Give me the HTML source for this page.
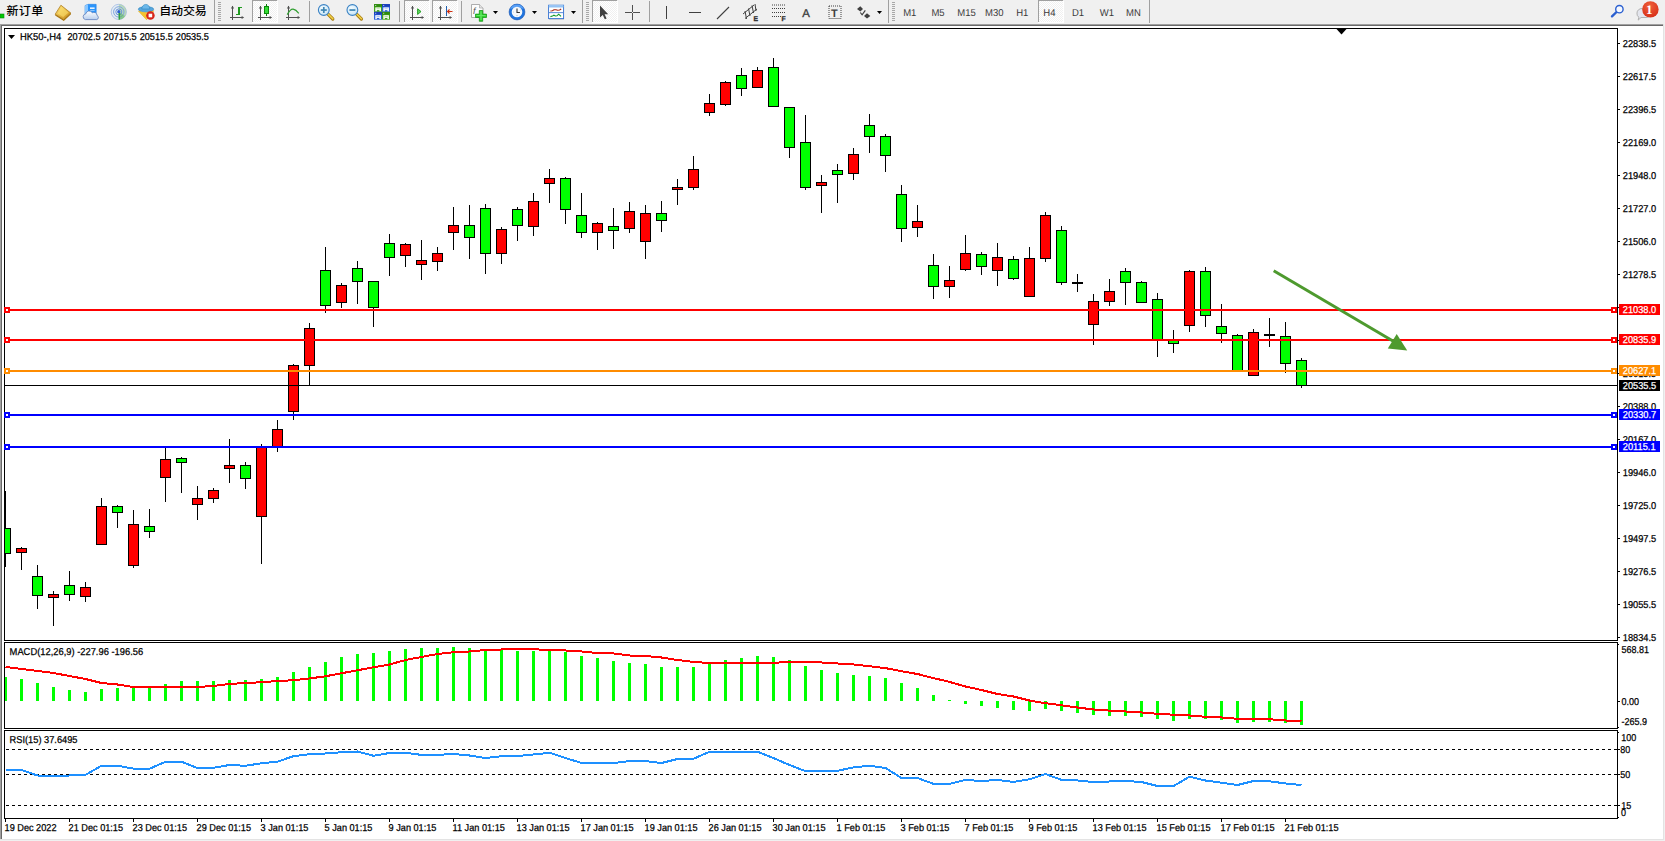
<!DOCTYPE html>
<html lang="zh"><head><meta charset="utf-8"><title>HK50-,H4</title>
<style>
html,body{margin:0;padding:0;}
body{width:1665px;height:841px;background:#f0f0f0;position:relative;overflow:hidden;font-family:"Liberation Sans","Noto Sans CJK SC",sans-serif;}
#tb{position:absolute;left:0;top:0;width:1665px;height:24px;background:#f0f0f0;}
#tb .t{position:absolute;white-space:nowrap;color:#000;}
#tb .cj{font-size:12px;line-height:14px;top:5.4px;font-weight:500;transform:scale(1,0.92);transform-origin:0 0;}
#tb svg{position:absolute;}
</style></head><body>
<div id="tb">
<svg width="1665" height="24" viewBox="0 0 1665 24" style="left:0;top:0;text-rendering:geometricPrecision" font-family="Liberation Sans, Arial, sans-serif">
<defs><pattern id="chk" width="2" height="2" patternUnits="userSpaceOnUse"><rect width="2" height="2" fill="#ffffff"/><rect width="1" height="1" fill="#f0f0f0"/><rect x="1" y="1" width="1" height="1" fill="#f0f0f0"/></pattern><linearGradient id="gold" x1="0" y1="0" x2="1" y2="1"><stop offset="0" stop-color="#ffe27a"/><stop offset="1" stop-color="#c98a12"/></linearGradient><linearGradient id="blu" x1="0" y1="0" x2="0" y2="1"><stop offset="0" stop-color="#6fb4f2"/><stop offset="1" stop-color="#1f6ed4"/></linearGradient><linearGradient id="cld" x1="0" y1="0" x2="0" y2="1"><stop offset="0" stop-color="#ffffff"/><stop offset="1" stop-color="#b9cfee"/></linearGradient><radialGradient id="red" cx="0.45" cy="0.3" r="0.8"><stop offset="0" stop-color="#f0603a"/><stop offset="1" stop-color="#d42a14"/></radialGradient><radialGradient id="lens" cx="0.4" cy="0.35" r="0.7"><stop offset="0" stop-color="#f4fbff"/><stop offset="1" stop-color="#c4e4f6"/></radialGradient></defs>
<rect x="0" y="14" width="4" height="4" fill="#00c800" stroke="#0a8a0a" stroke-width="0.6"/>
<g><polygon points="60.9,5.2 70.8,13 63.6,19.6 55.2,14.2" fill="url(#gold)" stroke="#a8740e" stroke-width="0.7"/><polygon points="61.3,6.6 68.6,12.6 63.2,17 57.6,13.6" fill="#ffe675" opacity="0.55"/><path d="M55.2,14.2 L63.6,19.6 L70.8,13 L71,14.3 L63.8,21 L55.2,15.6 Z" fill="#a8740e"/></g>
<g><polygon points="85,5.6 88,4.3 96.2,4.3 96.2,14 85,14" fill="#2b95fb" stroke="#1a78e0" stroke-width="0.5"/><polygon points="85,5.6 88,4.3 88,14 85,14" fill="#8cc8ff"/><rect x="90" y="7.4" width="4.6" height="1.6" fill="#e4f2ff"/><rect x="90" y="10" width="4.6" height="0.8" fill="#9fd0ff"/><path d="M85.4,19.6 a2.9,2.9 0 0 1 0.3,-5.7 a3.6,3.6 0 0 1 6.6,-1.2 a3.3,3.3 0 0 1 4.8,2.8 a2.2,2.2 0 0 1 -0.3,4.1 z" fill="url(#cld)" stroke="#5c7cba" stroke-width="0.8"/></g>
<g fill="none"><circle cx="118.8" cy="11.9" r="7.6" fill="#e6eef2" stroke="#a9c0e6" stroke-width="0.9"/><path d="M118.8,4.3 A7.6,7.6 0 0 1 118.8,19.5 Z" fill="#a8d0a8" opacity="0.75"/><circle cx="118.8" cy="11.9" r="5.2" stroke="#7ea3e0" stroke-width="1"/><circle cx="118.8" cy="11.9" r="3" stroke="#6a93dc" stroke-width="1"/><path d="M119.2,12 L119.2,19.6 A7.6,7.6 0 0 0 125,16 Z" fill="#3fae3f" opacity="0.4"/><rect x="118.6" y="12" width="1.2" height="7.6" fill="#1f9a2a"/><circle cx="118.8" cy="11.7" r="1.6" fill="#2a5fd0"/></g>
<g><path d="M138.5,11 Q146,14 153.6,10.6 L152,15 L146.4,19.6 Z" fill="#ffd94f" stroke="#d9a514" stroke-width="0.6"/><path d="M138.5,11 Q142,12.6 146,12.4 L146.4,19.6 Z" fill="#f3c22e"/><ellipse cx="146" cy="9.2" rx="7.7" ry="2.6" fill="#57a7dd" stroke="#2f86c0" stroke-width="0.6"/><path d="M141.8,9 a4,4.6 0 0 1 8,0 z" fill="#6cb8ea" stroke="#2f86c0" stroke-width="0.6"/><circle cx="150.4" cy="15.5" r="4.3" fill="#d8261a"/><rect x="148.6" y="13.7" width="3.6" height="3.6" fill="#fff"/></g>
<rect x="214" y="0" width="1" height="23" fill="#a0a0a0" shape-rendering="crispEdges"/>
<rect x="218" y="2" width="3" height="1" fill="#a8a8a8"/>
<rect x="218" y="4" width="3" height="1" fill="#a8a8a8"/>
<rect x="218" y="6" width="3" height="1" fill="#a8a8a8"/>
<rect x="218" y="8" width="3" height="1" fill="#a8a8a8"/>
<rect x="218" y="10" width="3" height="1" fill="#a8a8a8"/>
<rect x="218" y="12" width="3" height="1" fill="#a8a8a8"/>
<rect x="218" y="14" width="3" height="1" fill="#a8a8a8"/>
<rect x="218" y="16" width="3" height="1" fill="#a8a8a8"/>
<rect x="218" y="18" width="3" height="1" fill="#a8a8a8"/>
<rect x="218" y="20" width="3" height="1" fill="#a8a8a8"/>
<g stroke="#505050" stroke-width="1" fill="none" shape-rendering="crispEdges"><line x1="232.5" y1="6" x2="232.5" y2="20"/><line x1="230" y1="17.5" x2="243" y2="17.5"/></g>
<polygon points="230.9,8.6 232.5,5.8 234.1,8.6" fill="#505050"/><polygon points="241.6,15.9 244.2,17.5 241.6,19.1" fill="#505050"/>
<path d="M236,14.5 h3 v-7 h3" stroke="#1e9a1e" stroke-width="1.6" fill="none" shape-rendering="crispEdges"/>
<g shape-rendering="crispEdges"><rect x="252" y="0" width="25" height="22" fill="url(#chk)"/>
<rect x="252" y="0" width="25" height="1" fill="#a0a0a0"/><rect x="252" y="0" width="1" height="22" fill="#a0a0a0"/>
<rect x="252" y="22" width="26" height="1" fill="#ffffff"/><rect x="277" y="1" width="1" height="22" fill="#ffffff"/></g>
<g stroke="#505050" stroke-width="1" fill="none" shape-rendering="crispEdges"><line x1="260.5" y1="6" x2="260.5" y2="20"/><line x1="258" y1="17.5" x2="271" y2="17.5"/></g>
<polygon points="258.9,8.6 260.5,5.8 262.1,8.6" fill="#505050"/><polygon points="269.6,15.9 272.2,17.5 269.6,19.1" fill="#505050"/>
<g shape-rendering="crispEdges"><rect x="266" y="4" width="1" height="12" fill="#0b7a0b"/><rect x="264.5" y="6.5" width="4" height="7" fill="#35dc35" stroke="#0b8a0b" stroke-width="1"/></g>
<g stroke="#505050" stroke-width="1" fill="none" shape-rendering="crispEdges"><line x1="288.5" y1="6" x2="288.5" y2="20"/><line x1="286" y1="17.5" x2="299" y2="17.5"/></g>
<polygon points="286.9,8.6 288.5,5.8 290.1,8.6" fill="#505050"/><polygon points="297.6,15.9 300.2,17.5 297.6,19.1" fill="#505050"/>
<path d="M287.2,14.6 Q290.5,8.6 293.2,9.1 T298.8,13.3" stroke="#2f9e2f" stroke-width="1.15" fill="none"/>
<rect x="309" y="1" width="1" height="21" fill="#a0a0a0" shape-rendering="crispEdges"/>
<line x1="328.0" y1="14.2" x2="332.8" y2="19" stroke="#a87c12" stroke-width="3.2" stroke-linecap="round"/><line x1="328.0" y1="14" x2="332.8" y2="18.8" stroke="#f2d24a" stroke-width="1.6" stroke-linecap="round"/>
<circle cx="323.8" cy="10" r="5.4" fill="url(#lens)" stroke="#3b82c4" stroke-width="1.1"/>
<rect x="320.8" y="9.2" width="6" height="1.7" fill="#3f86b4"/>
<rect x="322.95" y="7" width="1.7" height="6" fill="#3f86b4"/>
<line x1="356.59999999999997" y1="14.2" x2="361.4" y2="19" stroke="#a87c12" stroke-width="3.2" stroke-linecap="round"/><line x1="356.59999999999997" y1="14" x2="361.4" y2="18.8" stroke="#f2d24a" stroke-width="1.6" stroke-linecap="round"/>
<circle cx="352.4" cy="10" r="5.4" fill="url(#lens)" stroke="#3b82c4" stroke-width="1.1"/>
<rect x="349.4" y="9.2" width="6" height="1.7" fill="#3f86b4"/>
<rect x="374" y="4.1" width="8" height="7.8" fill="#43a41a"/><rect x="374" y="4.1" width="8" height="2.6" fill="#2f8a10"/><rect x="375.2" y="5.0" width="1" height="1" fill="#e8f4ff" opacity="0.8"/><rect x="375.3" y="7.3999999999999995" width="5.6" height="2.7" fill="#fff"/><rect x="375.3" y="10.0" width="1.5" height="1.3" fill="#fff"/><rect x="379.4" y="10.0" width="1.5" height="1.3" fill="#fff"/><rect x="376.4" y="8.399999999999999" width="3.4" height="0.8" fill="#43a41a" opacity="0.45"/>
<rect x="382" y="4.1" width="8" height="7.8" fill="#2c62dc"/><rect x="382" y="4.1" width="8" height="2.6" fill="#1a3fb8"/><rect x="383.2" y="5.0" width="1" height="1" fill="#e8f4ff" opacity="0.8"/><rect x="383.3" y="7.3999999999999995" width="5.6" height="2.7" fill="#fff"/><rect x="383.3" y="10.0" width="1.5" height="1.3" fill="#fff"/><rect x="387.4" y="10.0" width="1.5" height="1.3" fill="#fff"/><rect x="384.4" y="8.399999999999999" width="3.4" height="0.8" fill="#2c62dc" opacity="0.45"/>
<rect x="374" y="11.9" width="8" height="7.8" fill="#2c62dc"/><rect x="374" y="11.9" width="8" height="2.6" fill="#1a3fb8"/><rect x="375.2" y="12.8" width="1" height="1" fill="#e8f4ff" opacity="0.8"/><rect x="375.3" y="15.2" width="5.6" height="2.7" fill="#fff"/><rect x="375.3" y="17.8" width="1.5" height="1.3" fill="#fff"/><rect x="379.4" y="17.8" width="1.5" height="1.3" fill="#fff"/><rect x="376.4" y="16.2" width="3.4" height="0.8" fill="#2c62dc" opacity="0.45"/>
<rect x="382" y="11.9" width="8" height="7.8" fill="#43a41a"/><rect x="382" y="11.9" width="8" height="2.6" fill="#2f8a10"/><rect x="383.2" y="12.8" width="1" height="1" fill="#e8f4ff" opacity="0.8"/><rect x="383.3" y="15.2" width="5.6" height="2.7" fill="#fff"/><rect x="383.3" y="17.8" width="1.5" height="1.3" fill="#fff"/><rect x="387.4" y="17.8" width="1.5" height="1.3" fill="#fff"/><rect x="384.4" y="16.2" width="3.4" height="0.8" fill="#43a41a" opacity="0.45"/>
<rect x="399" y="1" width="1" height="21" fill="#a0a0a0" shape-rendering="crispEdges"/>
<g shape-rendering="crispEdges"><rect x="404" y="0" width="25" height="22" fill="url(#chk)"/>
<rect x="404" y="0" width="25" height="1" fill="#a0a0a0"/><rect x="404" y="0" width="1" height="22" fill="#a0a0a0"/>
<rect x="404" y="22" width="26" height="1" fill="#ffffff"/><rect x="429" y="1" width="1" height="22" fill="#ffffff"/></g>
<g stroke="#505050" stroke-width="1" fill="none" shape-rendering="crispEdges"><line x1="412.5" y1="6" x2="412.5" y2="20"/><line x1="410" y1="17.5" x2="423" y2="17.5"/></g>
<polygon points="410.9,8.6 412.5,5.8 414.1,8.6" fill="#505050"/><polygon points="421.6,15.9 424.2,17.5 421.6,19.1" fill="#505050"/>
<polygon points="417.6,8.8 421,11.6 417.6,14.4" fill="#5fd85f" stroke="#1a9a1a" stroke-width="0.9"/>
<g shape-rendering="crispEdges"><rect x="432" y="0" width="25" height="22" fill="url(#chk)"/>
<rect x="432" y="0" width="25" height="1" fill="#a0a0a0"/><rect x="432" y="0" width="1" height="22" fill="#a0a0a0"/>
<rect x="432" y="22" width="26" height="1" fill="#ffffff"/><rect x="457" y="1" width="1" height="22" fill="#ffffff"/></g>
<g stroke="#505050" stroke-width="1" fill="none" shape-rendering="crispEdges"><line x1="440.5" y1="6" x2="440.5" y2="20"/><line x1="438" y1="17.5" x2="451" y2="17.5"/></g>
<polygon points="438.9,8.6 440.5,5.8 442.1,8.6" fill="#505050"/><polygon points="449.6,15.9 452.2,17.5 449.6,19.1" fill="#505050"/>
<rect x="446" y="6" width="1" height="10" fill="#1f5fb0" shape-rendering="crispEdges"/><path d="M452.5,11.5 h-5 m2,-2 l-2,2 l2,2" stroke="#d03010" stroke-width="1.1" fill="none"/>
<rect x="461" y="1" width="1" height="21" fill="#a0a0a0" shape-rendering="crispEdges"/>
<g><path d="M471.5,4.5 h8 l3.5,3.5 v9.5 h-11.5 z" fill="#fcfcfc" stroke="#9a9a9a" stroke-width="0.8"/><path d="M479.5,4.5 v3.5 h3.5" fill="#e4e4e4" stroke="#9a9a9a" stroke-width="0.6"/><text x="473" y="14" font-size="9" font-style="italic" fill="#555">f</text><path d="M479.3,10.5 h3.4 v3.6 h3.8 v3.4 h-3.8 v3.8 h-3.4 v-3.8 h-3.8 v-3.4 h3.8 z" fill="#2fd02f" stroke="#0a8f0a" stroke-width="0.7"/><path d="M480.4,11.2 h1.2 v3.8 h4 v1 h-4 v4 h-1.2 v-4 h-4 v-1 h4 z" fill="#7df07d" opacity="0.7"/></g>
<polygon points="493,11 498,11 495.5,14" fill="#000"/>
<g><circle cx="517" cy="12" r="7.9" fill="#1f74de" stroke="#0e4cae" stroke-width="0.6"/><path d="M510.2,9 a7.4,7.4 0 0 1 13.6,0 a10,6 0 0 0 -13.6,0 z" fill="#6fb2ff" opacity="0.7"/><circle cx="517" cy="12" r="5.3" fill="#f4f8fc"/><path d="M517,8.6 v3.9 h2.9" stroke="#333" stroke-width="1.1" fill="none"/><circle cx="517" cy="15.6" r="0.5" fill="#8ab"/><circle cx="513.3" cy="12" r="0.4" fill="#9ab"/><circle cx="520.8" cy="10" r="0.4" fill="#9ab"/></g>
<polygon points="532,11 537,11 534.5,14" fill="#000"/>
<g><rect x="549" y="19" width="15" height="0.8" fill="#c8c8c8"/><rect x="548.6" y="5.2" width="15" height="13.4" fill="#ffffff" stroke="#2f6fd0" stroke-width="0.9"/><rect x="548.6" y="5.2" width="15" height="2.2" fill="#7ab4f0"/><rect x="549" y="5.6" width="14.2" height="0.7" fill="#cfe6ff"/><rect x="549" y="12.3" width="14.2" height="0.8" fill="#2f6fd0"/><path d="M550.4,11 l2,-0.2 l1.6,-1.1 l2,0.1 l1.6,0.5 l2,-0.3 l1.6,-0.9" stroke="#a82410" stroke-width="1.1" fill="none"/><path d="M550.4,16.6 l2,-0.5 l1.5,-0.9 l1.5,0.8 l1.6,-0.2 l1.6,-1.6 l1.4,1.1 l1,1.1" stroke="#149a2a" stroke-width="1.1" fill="none"/></g>
<polygon points="571,11 576,11 573.5,14" fill="#000"/>
<rect x="582" y="0" width="1" height="23" fill="#a0a0a0" shape-rendering="crispEdges"/>
<rect x="586" y="2" width="3" height="1" fill="#a8a8a8"/>
<rect x="586" y="4" width="3" height="1" fill="#a8a8a8"/>
<rect x="586" y="6" width="3" height="1" fill="#a8a8a8"/>
<rect x="586" y="8" width="3" height="1" fill="#a8a8a8"/>
<rect x="586" y="10" width="3" height="1" fill="#a8a8a8"/>
<rect x="586" y="12" width="3" height="1" fill="#a8a8a8"/>
<rect x="586" y="14" width="3" height="1" fill="#a8a8a8"/>
<rect x="586" y="16" width="3" height="1" fill="#a8a8a8"/>
<rect x="586" y="18" width="3" height="1" fill="#a8a8a8"/>
<rect x="586" y="20" width="3" height="1" fill="#a8a8a8"/>
<g shape-rendering="crispEdges"><rect x="592" y="0" width="25" height="22" fill="url(#chk)"/>
<rect x="592" y="0" width="25" height="1" fill="#a0a0a0"/><rect x="592" y="0" width="1" height="22" fill="#a0a0a0"/>
<rect x="592" y="22" width="26" height="1" fill="#ffffff"/><rect x="617" y="1" width="1" height="22" fill="#ffffff"/></g>
<path d="M600,5.5 v12 l2.8,-2.6 l2,4.4 l1.8,-0.8 l-2,-4.3 h3.6 z" fill="#404040"/>
<g shape-rendering="crispEdges" fill="#505050"><rect x="632" y="5" width="1" height="15"/><rect x="625" y="12" width="15" height="1"/></g><rect x="632" y="12" width="1" height="1" fill="#f0f0f0"/>
<rect x="649" y="1" width="1" height="21" fill="#a0a0a0" shape-rendering="crispEdges"/>
<g shape-rendering="crispEdges" fill="#404040"><rect x="666" y="6" width="1" height="13"/><rect x="689" y="12" width="12" height="1"/></g>
<line x1="717" y1="19" x2="729" y2="7" stroke="#404040" stroke-width="1.1"/>
<g stroke="#404040" stroke-width="1" fill="none"><line x1="743" y1="14" x2="754" y2="5"/><line x1="745" y1="18.5" x2="757" y2="9"/><line x1="745" y1="11" x2="746.5" y2="19"/><line x1="748.5" y1="8.5" x2="750" y2="16"/><line x1="752" y1="5.5" x2="753.5" y2="13"/><line x1="755" y1="4" x2="756" y2="11"/></g><text x="753.4" y="21" font-size="6.8" font-weight="bold" fill="#303030" stroke="#303030" stroke-width="0.3">E</text>
<line x1="772" y1="5" x2="785" y2="5" stroke="#404040" stroke-width="1" stroke-dasharray="1 1"/>
<line x1="772" y1="8.5" x2="785" y2="8.5" stroke="#404040" stroke-width="1" stroke-dasharray="1 1"/>
<line x1="772" y1="12.5" x2="785" y2="12.5" stroke="#404040" stroke-width="1" stroke-dasharray="1 1"/>
<line x1="772" y1="16.5" x2="781" y2="16.5" stroke="#404040" stroke-width="1" stroke-dasharray="1 1"/>
<text x="781.6" y="21" font-size="6.8" font-weight="bold" fill="#303030" stroke="#303030" stroke-width="0.3">F</text>
<text x="802.3" y="16.8" font-size="11.4" fill="#404040" stroke="#404040" stroke-width="0.35">A</text>
<rect x="829" y="6" width="12" height="12.5" fill="none" stroke="#404040" stroke-width="1" stroke-dasharray="1 1"/><text x="831" y="16.6" font-size="11" font-weight="bold" fill="#404040">T</text>
<g fill="#404040"><polygon points="860.3,6.3 863,9 860.3,11.5 857,9"/><polygon points="867,13.3 870.3,16 867,18.6 864,16"/><path d="M860.3,12.5 l1.8,2.3 l3.2,-4.5" stroke="#404040" stroke-width="1.2" fill="none"/></g>
<polygon points="877,11 882,11 879.5,14" fill="#000"/>
<rect x="888" y="0" width="1" height="23" fill="#a0a0a0" shape-rendering="crispEdges"/>
<rect x="892" y="2" width="3" height="1" fill="#a8a8a8"/>
<rect x="892" y="4" width="3" height="1" fill="#a8a8a8"/>
<rect x="892" y="6" width="3" height="1" fill="#a8a8a8"/>
<rect x="892" y="8" width="3" height="1" fill="#a8a8a8"/>
<rect x="892" y="10" width="3" height="1" fill="#a8a8a8"/>
<rect x="892" y="12" width="3" height="1" fill="#a8a8a8"/>
<rect x="892" y="14" width="3" height="1" fill="#a8a8a8"/>
<rect x="892" y="16" width="3" height="1" fill="#a8a8a8"/>
<rect x="892" y="18" width="3" height="1" fill="#a8a8a8"/>
<rect x="892" y="20" width="3" height="1" fill="#a8a8a8"/>
<g shape-rendering="crispEdges"><rect x="1038" y="0" width="25" height="22" fill="url(#chk)"/>
<rect x="1038" y="0" width="25" height="1" fill="#a0a0a0"/><rect x="1038" y="0" width="1" height="22" fill="#a0a0a0"/>
<rect x="1038" y="22" width="26" height="1" fill="#ffffff"/><rect x="1063" y="1" width="1" height="22" fill="#ffffff"/></g>
<rect x="1149" y="0" width="1" height="23" fill="#a0a0a0" shape-rendering="crispEdges"/>
<text x="950.74" y="16" font-size="10" fill="#3a3a3a" transform="scale(0.95,1)">M1</text>
<text x="980.42" y="16" font-size="10" fill="#3a3a3a" transform="scale(0.95,1)">M5</text>
<text x="1007.68" y="16" font-size="10" fill="#3a3a3a" transform="scale(0.95,1)">M15</text>
<text x="1036.84" y="16" font-size="10" fill="#3a3a3a" transform="scale(0.95,1)">M30</text>
<text x="1069.68" y="16" font-size="10" fill="#3a3a3a" transform="scale(0.95,1)">H1</text>
<text x="1098.21" y="16" font-size="10" fill="#3a3a3a" transform="scale(0.95,1)">H4</text>
<text x="1128.42" y="16" font-size="10" fill="#3a3a3a" transform="scale(0.95,1)">D1</text>
<text x="1157.68" y="16" font-size="10" fill="#3a3a3a" transform="scale(0.95,1)">W1</text>
<text x="1185.26" y="16" font-size="10" fill="#3a3a3a" transform="scale(0.95,1)">MN</text>
<g><line x1="1612" y1="16.3" x2="1616.5" y2="12" stroke="#2a5fd0" stroke-width="2.4" stroke-linecap="round"/><circle cx="1619.4" cy="9.2" r="3.7" fill="#f4f8ff" stroke="#2a5fd0" stroke-width="1.4"/></g>
<g><path d="M1637,13 a5,4.5 0 0 1 5,-4.5 h4 a5,4.5 0 0 1 0,9 h-5 l-2.8,2.6 l0.6,-2.9 a4.6,4.4 0 0 1 -1.8,-4.2 z" fill="#e4e6ee" stroke="#aaaaaa" stroke-width="0.9"/><circle cx="1650.4" cy="9.4" r="8.2" fill="url(#red)"/><text x="1649.3" y="14" font-size="13" fill="#fff" text-anchor="middle" font-family="Liberation Serif, serif" font-weight="bold">1</text></g>
</svg>
<span class="t cj" style="left:6.4px;letter-spacing:0.4px">新订单</span>
<span class="t cj" style="left:159.3px;letter-spacing:-0.2px">自动交易</span>
</div>
<svg width="1665" height="841" viewBox="0 0 1665 841" style="position:absolute;left:0;top:0;text-rendering:geometricPrecision" font-family="Liberation Sans, Arial, sans-serif"><g shape-rendering="crispEdges"><rect x="0" y="24" width="1664" height="816" fill="#a0a0a0"/><rect x="1" y="25" width="1663" height="815" fill="#696969"/><rect x="2" y="26" width="1661" height="813" fill="#ffffff"/><rect x="1663" y="24" width="1" height="816" fill="#e3e3e3"/><rect x="0" y="839" width="1664" height="1" fill="#e3e3e3"/><rect x="1664" y="24" width="1" height="817" fill="#f0f0f0"/><rect x="0" y="840" width="1665" height="1" fill="#f0f0f0"/><rect x="4" y="28" width="1614" height="1" fill="#000"/><rect x="4" y="640" width="1614" height="1" fill="#000"/><rect x="4" y="28" width="1" height="613" fill="#000"/><rect x="1617" y="28" width="1" height="613" fill="#000"/><rect x="4" y="642" width="1614" height="1" fill="#000"/><rect x="4" y="728" width="1614" height="1" fill="#000"/><rect x="4" y="642" width="1" height="87" fill="#000"/><rect x="1617" y="642" width="1" height="87" fill="#000"/><rect x="4" y="730" width="1614" height="1" fill="#000"/><rect x="4" y="818" width="1614" height="1" fill="#000"/><rect x="4" y="730" width="1" height="89" fill="#000"/><rect x="1617" y="730" width="1" height="89" fill="#000"/></g><defs><clipPath id="cm"><rect x="5" y="29" width="1612" height="611"/></clipPath><clipPath id="c2"><rect x="5" y="643" width="1612" height="85"/></clipPath><clipPath id="c3"><rect x="5" y="731" width="1612" height="87"/></clipPath></defs><g shape-rendering="crispEdges" clip-path="url(#cm)"><rect x="5" y="491" width="1" height="76" fill="#000"/><rect x="0" y="528" width="11" height="26" fill="#000"/><rect x="1" y="529" width="9" height="24" fill="#00ff00"/><rect x="21" y="547" width="1" height="23" fill="#000"/><rect x="16" y="548" width="11" height="5" fill="#000"/><rect x="17" y="549" width="9" height="3" fill="#ff0000"/><rect x="37" y="565" width="1" height="44" fill="#000"/><rect x="32" y="576" width="11" height="20" fill="#000"/><rect x="33" y="577" width="9" height="18" fill="#00ff00"/><rect x="53" y="591" width="1" height="35" fill="#000"/><rect x="48" y="594" width="11" height="4" fill="#000"/><rect x="49" y="595" width="9" height="2" fill="#ff0000"/><rect x="69" y="571" width="1" height="30" fill="#000"/><rect x="64" y="585" width="11" height="10" fill="#000"/><rect x="65" y="586" width="9" height="8" fill="#00ff00"/><rect x="85" y="582" width="1" height="20" fill="#000"/><rect x="80" y="587" width="11" height="10" fill="#000"/><rect x="81" y="588" width="9" height="8" fill="#ff0000"/><rect x="101" y="498" width="1" height="47" fill="#000"/><rect x="96" y="506" width="11" height="39" fill="#000"/><rect x="97" y="507" width="9" height="37" fill="#ff0000"/><rect x="117" y="505" width="1" height="23" fill="#000"/><rect x="112" y="506" width="11" height="7" fill="#000"/><rect x="113" y="507" width="9" height="5" fill="#00ff00"/><rect x="133" y="510" width="1" height="58" fill="#000"/><rect x="128" y="524" width="11" height="42" fill="#000"/><rect x="129" y="525" width="9" height="40" fill="#ff0000"/><rect x="149" y="509" width="1" height="29" fill="#000"/><rect x="144" y="526" width="11" height="6" fill="#000"/><rect x="145" y="527" width="9" height="4" fill="#00ff00"/><rect x="165" y="447" width="1" height="55" fill="#000"/><rect x="160" y="459" width="11" height="19" fill="#000"/><rect x="161" y="460" width="9" height="17" fill="#ff0000"/><rect x="181" y="457" width="1" height="36" fill="#000"/><rect x="176" y="458" width="11" height="5" fill="#000"/><rect x="177" y="459" width="9" height="3" fill="#00ff00"/><rect x="197" y="486" width="1" height="34" fill="#000"/><rect x="192" y="498" width="11" height="7" fill="#000"/><rect x="193" y="499" width="9" height="5" fill="#ff0000"/><rect x="213" y="488" width="1" height="15" fill="#000"/><rect x="208" y="490" width="11" height="9" fill="#000"/><rect x="209" y="491" width="9" height="7" fill="#ff0000"/><rect x="229" y="439" width="1" height="44" fill="#000"/><rect x="224" y="465" width="11" height="4" fill="#000"/><rect x="225" y="466" width="9" height="2" fill="#ff0000"/><rect x="245" y="462" width="1" height="27" fill="#000"/><rect x="240" y="465" width="11" height="14" fill="#000"/><rect x="241" y="466" width="9" height="12" fill="#00ff00"/><rect x="261" y="444" width="1" height="120" fill="#000"/><rect x="256" y="447" width="11" height="70" fill="#000"/><rect x="257" y="448" width="9" height="68" fill="#ff0000"/><rect x="277" y="420" width="1" height="32" fill="#000"/><rect x="272" y="429" width="11" height="18" fill="#000"/><rect x="273" y="430" width="9" height="16" fill="#ff0000"/><rect x="293" y="364" width="1" height="56" fill="#000"/><rect x="288" y="365" width="11" height="47" fill="#000"/><rect x="289" y="366" width="9" height="45" fill="#ff0000"/><rect x="309" y="323" width="1" height="62" fill="#000"/><rect x="304" y="328" width="11" height="38" fill="#000"/><rect x="305" y="329" width="9" height="36" fill="#ff0000"/><rect x="325" y="247" width="1" height="66" fill="#000"/><rect x="320" y="270" width="11" height="36" fill="#000"/><rect x="321" y="271" width="9" height="34" fill="#00ff00"/><rect x="341" y="283" width="1" height="25" fill="#000"/><rect x="336" y="285" width="11" height="18" fill="#000"/><rect x="337" y="286" width="9" height="16" fill="#ff0000"/><rect x="357" y="261" width="1" height="43" fill="#000"/><rect x="352" y="268" width="11" height="14" fill="#000"/><rect x="353" y="269" width="9" height="12" fill="#00ff00"/><rect x="373" y="281" width="1" height="46" fill="#000"/><rect x="368" y="281" width="11" height="27" fill="#000"/><rect x="369" y="282" width="9" height="25" fill="#00ff00"/><rect x="389" y="234" width="1" height="42" fill="#000"/><rect x="384" y="243" width="11" height="15" fill="#000"/><rect x="385" y="244" width="9" height="13" fill="#00ff00"/><rect x="405" y="243" width="1" height="24" fill="#000"/><rect x="400" y="244" width="11" height="12" fill="#000"/><rect x="401" y="245" width="9" height="10" fill="#ff0000"/><rect x="421" y="240" width="1" height="40" fill="#000"/><rect x="416" y="260" width="11" height="5" fill="#000"/><rect x="417" y="261" width="9" height="3" fill="#ff0000"/><rect x="437" y="247" width="1" height="24" fill="#000"/><rect x="432" y="253" width="11" height="9" fill="#000"/><rect x="433" y="254" width="9" height="7" fill="#ff0000"/><rect x="453" y="207" width="1" height="43" fill="#000"/><rect x="448" y="225" width="11" height="8" fill="#000"/><rect x="449" y="226" width="9" height="6" fill="#ff0000"/><rect x="469" y="205" width="1" height="54" fill="#000"/><rect x="464" y="225" width="11" height="13" fill="#000"/><rect x="465" y="226" width="9" height="11" fill="#00ff00"/><rect x="485" y="204" width="1" height="70" fill="#000"/><rect x="480" y="208" width="11" height="46" fill="#000"/><rect x="481" y="209" width="9" height="44" fill="#00ff00"/><rect x="501" y="227" width="1" height="37" fill="#000"/><rect x="496" y="229" width="11" height="25" fill="#000"/><rect x="497" y="230" width="9" height="23" fill="#ff0000"/><rect x="517" y="207" width="1" height="34" fill="#000"/><rect x="512" y="209" width="11" height="17" fill="#000"/><rect x="513" y="210" width="9" height="15" fill="#00ff00"/><rect x="533" y="193" width="1" height="43" fill="#000"/><rect x="528" y="201" width="11" height="26" fill="#000"/><rect x="529" y="202" width="9" height="24" fill="#ff0000"/><rect x="549" y="169" width="1" height="34" fill="#000"/><rect x="544" y="178" width="11" height="6" fill="#000"/><rect x="545" y="179" width="9" height="4" fill="#ff0000"/><rect x="565" y="177" width="1" height="47" fill="#000"/><rect x="560" y="178" width="11" height="32" fill="#000"/><rect x="561" y="179" width="9" height="30" fill="#00ff00"/><rect x="581" y="193" width="1" height="45" fill="#000"/><rect x="576" y="215" width="11" height="18" fill="#000"/><rect x="577" y="216" width="9" height="16" fill="#00ff00"/><rect x="597" y="222" width="1" height="28" fill="#000"/><rect x="592" y="223" width="11" height="10" fill="#000"/><rect x="593" y="224" width="9" height="8" fill="#ff0000"/><rect x="613" y="208" width="1" height="41" fill="#000"/><rect x="608" y="226" width="11" height="5" fill="#000"/><rect x="609" y="227" width="9" height="3" fill="#00ff00"/><rect x="629" y="202" width="1" height="31" fill="#000"/><rect x="624" y="211" width="11" height="18" fill="#000"/><rect x="625" y="212" width="9" height="16" fill="#ff0000"/><rect x="645" y="205" width="1" height="54" fill="#000"/><rect x="640" y="213" width="11" height="29" fill="#000"/><rect x="641" y="214" width="9" height="27" fill="#ff0000"/><rect x="661" y="201" width="1" height="31" fill="#000"/><rect x="656" y="213" width="11" height="8" fill="#000"/><rect x="657" y="214" width="9" height="6" fill="#00ff00"/><rect x="677" y="179" width="1" height="26" fill="#000"/><rect x="672" y="187" width="11" height="3" fill="#000"/><rect x="673" y="188" width="9" height="1" fill="#ff0000"/><rect x="693" y="156" width="1" height="34" fill="#000"/><rect x="688" y="169" width="11" height="19" fill="#000"/><rect x="689" y="170" width="9" height="17" fill="#ff0000"/><rect x="709" y="94" width="1" height="22" fill="#000"/><rect x="704" y="103" width="11" height="10" fill="#000"/><rect x="705" y="104" width="9" height="8" fill="#ff0000"/><rect x="725" y="81" width="1" height="25" fill="#000"/><rect x="720" y="82" width="11" height="23" fill="#000"/><rect x="721" y="83" width="9" height="21" fill="#ff0000"/><rect x="741" y="68" width="1" height="28" fill="#000"/><rect x="736" y="75" width="11" height="14" fill="#000"/><rect x="737" y="76" width="9" height="12" fill="#00ff00"/><rect x="757" y="67" width="1" height="21" fill="#000"/><rect x="752" y="70" width="11" height="18" fill="#000"/><rect x="753" y="71" width="9" height="16" fill="#ff0000"/><rect x="773" y="58" width="1" height="49" fill="#000"/><rect x="768" y="67" width="11" height="40" fill="#000"/><rect x="769" y="68" width="9" height="38" fill="#00ff00"/><rect x="789" y="107" width="1" height="51" fill="#000"/><rect x="784" y="107" width="11" height="41" fill="#000"/><rect x="785" y="108" width="9" height="39" fill="#00ff00"/><rect x="805" y="115" width="1" height="75" fill="#000"/><rect x="800" y="142" width="11" height="46" fill="#000"/><rect x="801" y="143" width="9" height="44" fill="#00ff00"/><rect x="821" y="175" width="1" height="38" fill="#000"/><rect x="816" y="182" width="11" height="4" fill="#000"/><rect x="817" y="183" width="9" height="2" fill="#ff0000"/><rect x="837" y="164" width="1" height="39" fill="#000"/><rect x="832" y="170" width="11" height="5" fill="#000"/><rect x="833" y="171" width="9" height="3" fill="#00ff00"/><rect x="853" y="148" width="1" height="32" fill="#000"/><rect x="848" y="154" width="11" height="20" fill="#000"/><rect x="849" y="155" width="9" height="18" fill="#ff0000"/><rect x="869" y="114" width="1" height="39" fill="#000"/><rect x="864" y="125" width="11" height="12" fill="#000"/><rect x="865" y="126" width="9" height="10" fill="#00ff00"/><rect x="885" y="134" width="1" height="38" fill="#000"/><rect x="880" y="136" width="11" height="20" fill="#000"/><rect x="881" y="137" width="9" height="18" fill="#00ff00"/><rect x="901" y="185" width="1" height="57" fill="#000"/><rect x="896" y="194" width="11" height="35" fill="#000"/><rect x="897" y="195" width="9" height="33" fill="#00ff00"/><rect x="917" y="205" width="1" height="32" fill="#000"/><rect x="912" y="221" width="11" height="7" fill="#000"/><rect x="913" y="222" width="9" height="5" fill="#ff0000"/><rect x="933" y="254" width="1" height="45" fill="#000"/><rect x="928" y="265" width="11" height="22" fill="#000"/><rect x="929" y="266" width="9" height="20" fill="#00ff00"/><rect x="949" y="266" width="1" height="32" fill="#000"/><rect x="944" y="280" width="11" height="7" fill="#000"/><rect x="945" y="281" width="9" height="5" fill="#ff0000"/><rect x="965" y="235" width="1" height="36" fill="#000"/><rect x="960" y="253" width="11" height="17" fill="#000"/><rect x="961" y="254" width="9" height="15" fill="#ff0000"/><rect x="981" y="252" width="1" height="23" fill="#000"/><rect x="976" y="254" width="11" height="13" fill="#000"/><rect x="977" y="255" width="9" height="11" fill="#00ff00"/><rect x="997" y="243" width="1" height="43" fill="#000"/><rect x="992" y="257" width="11" height="14" fill="#000"/><rect x="993" y="258" width="9" height="12" fill="#ff0000"/><rect x="1013" y="256" width="1" height="24" fill="#000"/><rect x="1008" y="259" width="11" height="20" fill="#000"/><rect x="1009" y="260" width="9" height="18" fill="#00ff00"/><rect x="1029" y="247" width="1" height="50" fill="#000"/><rect x="1024" y="258" width="11" height="39" fill="#000"/><rect x="1025" y="259" width="9" height="37" fill="#ff0000"/><rect x="1045" y="212" width="1" height="50" fill="#000"/><rect x="1040" y="215" width="11" height="44" fill="#000"/><rect x="1041" y="216" width="9" height="42" fill="#ff0000"/><rect x="1061" y="226" width="1" height="59" fill="#000"/><rect x="1056" y="230" width="11" height="53" fill="#000"/><rect x="1057" y="231" width="9" height="51" fill="#00ff00"/><rect x="1077" y="274" width="1" height="18" fill="#000"/><rect x="1072" y="282" width="11" height="2" fill="#000"/><rect x="1093" y="294" width="1" height="51" fill="#000"/><rect x="1088" y="301" width="11" height="24" fill="#000"/><rect x="1089" y="302" width="9" height="22" fill="#ff0000"/><rect x="1109" y="279" width="1" height="27" fill="#000"/><rect x="1104" y="291" width="11" height="11" fill="#000"/><rect x="1105" y="292" width="9" height="9" fill="#ff0000"/><rect x="1125" y="268" width="1" height="37" fill="#000"/><rect x="1120" y="271" width="11" height="12" fill="#000"/><rect x="1121" y="272" width="9" height="10" fill="#00ff00"/><rect x="1141" y="281" width="1" height="22" fill="#000"/><rect x="1136" y="282" width="11" height="21" fill="#000"/><rect x="1137" y="283" width="9" height="19" fill="#00ff00"/><rect x="1157" y="293" width="1" height="64" fill="#000"/><rect x="1152" y="299" width="11" height="42" fill="#000"/><rect x="1153" y="300" width="9" height="40" fill="#00ff00"/><rect x="1173" y="330" width="1" height="23" fill="#000"/><rect x="1168" y="339" width="11" height="5" fill="#000"/><rect x="1169" y="340" width="9" height="3" fill="#00ff00"/><rect x="1189" y="270" width="1" height="62" fill="#000"/><rect x="1184" y="271" width="11" height="55" fill="#000"/><rect x="1185" y="272" width="9" height="53" fill="#ff0000"/><rect x="1205" y="267" width="1" height="60" fill="#000"/><rect x="1200" y="271" width="11" height="45" fill="#000"/><rect x="1201" y="272" width="9" height="43" fill="#00ff00"/><rect x="1221" y="304" width="1" height="39" fill="#000"/><rect x="1216" y="326" width="11" height="8" fill="#000"/><rect x="1217" y="327" width="9" height="6" fill="#00ff00"/><rect x="1237" y="334" width="1" height="38" fill="#000"/><rect x="1232" y="335" width="11" height="37" fill="#000"/><rect x="1233" y="336" width="9" height="35" fill="#00ff00"/><rect x="1253" y="329" width="1" height="47" fill="#000"/><rect x="1248" y="332" width="11" height="44" fill="#000"/><rect x="1249" y="333" width="9" height="42" fill="#ff0000"/><rect x="1269" y="318" width="1" height="29" fill="#000"/><rect x="1264" y="334" width="11" height="2" fill="#000"/><rect x="1285" y="322" width="1" height="51" fill="#000"/><rect x="1280" y="336" width="11" height="28" fill="#000"/><rect x="1281" y="337" width="9" height="26" fill="#00ff00"/><rect x="1301" y="358" width="1" height="30" fill="#000"/><rect x="1296" y="360" width="11" height="26" fill="#000"/><rect x="1297" y="361" width="9" height="24" fill="#00ff00"/></g><g shape-rendering="crispEdges"><rect x="5" y="385" width="1612" height="1" fill="#000"/><rect x="5" y="309" width="1612" height="2" fill="#ff0000"/><rect x="4" y="307" width="6" height="6" fill="#ff0000"/><rect x="6" y="309" width="2" height="2" fill="#fff"/><rect x="1611" y="307" width="6" height="6" fill="#ff0000"/><rect x="1613" y="309" width="2" height="2" fill="#fff"/><rect x="5" y="339" width="1612" height="2" fill="#ff0000"/><rect x="4" y="337" width="6" height="6" fill="#ff0000"/><rect x="6" y="339" width="2" height="2" fill="#fff"/><rect x="1611" y="337" width="6" height="6" fill="#ff0000"/><rect x="1613" y="339" width="2" height="2" fill="#fff"/><rect x="5" y="370" width="1612" height="2" fill="#ff8c00"/><rect x="4" y="368" width="6" height="6" fill="#ff8c00"/><rect x="6" y="370" width="2" height="2" fill="#fff"/><rect x="1611" y="368" width="6" height="6" fill="#ff8c00"/><rect x="1613" y="370" width="2" height="2" fill="#fff"/><rect x="5" y="414" width="1612" height="2" fill="#0000ff"/><rect x="4" y="412" width="6" height="6" fill="#0000ff"/><rect x="6" y="414" width="2" height="2" fill="#fff"/><rect x="1611" y="412" width="6" height="6" fill="#0000ff"/><rect x="1613" y="414" width="2" height="2" fill="#fff"/><rect x="5" y="446" width="1612" height="2" fill="#0000ff"/><rect x="4" y="444" width="6" height="6" fill="#0000ff"/><rect x="6" y="446" width="2" height="2" fill="#fff"/><rect x="1611" y="444" width="6" height="6" fill="#0000ff"/><rect x="1613" y="446" width="2" height="2" fill="#fff"/><rect x="1617" y="28" width="1" height="613" fill="#000"/></g><line x1="1273.7" y1="270.7" x2="1395" y2="342.3" stroke="#4e9a2e" stroke-width="3"/><polygon points="1396.7,334 1387.8,348.6 1407.2,350.4" fill="#4e9a2e"/><polygon points="1336.5,29 1346.5,29 1341.5,34.5" fill="#000"/><polygon points="8,35 15,35 11.5,39" fill="#000"/><text x="21.17" y="40" fill="#000" stroke="#000" stroke-width="0.25" font-size="10.0" text-anchor="start" transform="scale(0.94,1)">HK50-,H4</text><text x="73.77" y="40" fill="#000" stroke="#000" stroke-width="0.25" font-size="10.0" text-anchor="start" transform="scale(0.915,1)">20702.5</text><text x="113.22" y="40" fill="#000" stroke="#000" stroke-width="0.25" font-size="10.0" text-anchor="start" transform="scale(0.915,1)">20715.5</text><text x="152.68" y="40" fill="#000" stroke="#000" stroke-width="0.25" font-size="10.0" text-anchor="start" transform="scale(0.915,1)">20515.5</text><text x="192.13" y="40" fill="#000" stroke="#000" stroke-width="0.25" font-size="10.0" text-anchor="start" transform="scale(0.915,1)">20535.5</text><g shape-rendering="crispEdges"><rect x="1618" y="43" width="2" height="1" fill="#000"/><rect x="1618" y="76" width="2" height="1" fill="#000"/><rect x="1618" y="109" width="2" height="1" fill="#000"/><rect x="1618" y="142" width="2" height="1" fill="#000"/><rect x="1618" y="175" width="2" height="1" fill="#000"/><rect x="1618" y="208" width="2" height="1" fill="#000"/><rect x="1618" y="241" width="2" height="1" fill="#000"/><rect x="1618" y="274" width="2" height="1" fill="#000"/><rect x="1618" y="307" width="2" height="1" fill="#000"/><rect x="1618" y="340" width="2" height="1" fill="#000"/><rect x="1618" y="373" width="2" height="1" fill="#000"/><rect x="1618" y="406" width="2" height="1" fill="#000"/><rect x="1618" y="439" width="2" height="1" fill="#000"/><rect x="1618" y="472" width="2" height="1" fill="#000"/><rect x="1618" y="505" width="2" height="1" fill="#000"/><rect x="1618" y="538" width="2" height="1" fill="#000"/><rect x="1618" y="571" width="2" height="1" fill="#000"/><rect x="1618" y="604" width="2" height="1" fill="#000"/><rect x="1618" y="637" width="2" height="1" fill="#000"/></g><text x="1754.38" y="47" fill="#000" stroke="#000" stroke-width="0.25" font-size="10.0" text-anchor="start" transform="scale(0.925,1)">22838.5</text><text x="1754.38" y="80" fill="#000" stroke="#000" stroke-width="0.25" font-size="10.0" text-anchor="start" transform="scale(0.925,1)">22617.5</text><text x="1754.38" y="113" fill="#000" stroke="#000" stroke-width="0.25" font-size="10.0" text-anchor="start" transform="scale(0.925,1)">22396.5</text><text x="1754.38" y="146" fill="#000" stroke="#000" stroke-width="0.25" font-size="10.0" text-anchor="start" transform="scale(0.925,1)">22169.0</text><text x="1754.38" y="179" fill="#000" stroke="#000" stroke-width="0.25" font-size="10.0" text-anchor="start" transform="scale(0.925,1)">21948.0</text><text x="1754.38" y="212" fill="#000" stroke="#000" stroke-width="0.25" font-size="10.0" text-anchor="start" transform="scale(0.925,1)">21727.0</text><text x="1754.38" y="245" fill="#000" stroke="#000" stroke-width="0.25" font-size="10.0" text-anchor="start" transform="scale(0.925,1)">21506.0</text><text x="1754.38" y="278" fill="#000" stroke="#000" stroke-width="0.25" font-size="10.0" text-anchor="start" transform="scale(0.925,1)">21278.5</text><text x="1754.38" y="311" fill="#000" stroke="#000" stroke-width="0.25" font-size="10.0" text-anchor="start" transform="scale(0.925,1)">21057.5</text><text x="1754.38" y="344" fill="#000" stroke="#000" stroke-width="0.25" font-size="10.0" text-anchor="start" transform="scale(0.925,1)">20836.5</text><text x="1754.38" y="377" fill="#000" stroke="#000" stroke-width="0.25" font-size="10.0" text-anchor="start" transform="scale(0.925,1)">20615.5</text><text x="1754.38" y="410" fill="#000" stroke="#000" stroke-width="0.25" font-size="10.0" text-anchor="start" transform="scale(0.925,1)">20388.0</text><text x="1754.38" y="443" fill="#000" stroke="#000" stroke-width="0.25" font-size="10.0" text-anchor="start" transform="scale(0.925,1)">20167.0</text><text x="1754.38" y="476" fill="#000" stroke="#000" stroke-width="0.25" font-size="10.0" text-anchor="start" transform="scale(0.925,1)">19946.0</text><text x="1754.38" y="509" fill="#000" stroke="#000" stroke-width="0.25" font-size="10.0" text-anchor="start" transform="scale(0.925,1)">19725.0</text><text x="1754.38" y="542" fill="#000" stroke="#000" stroke-width="0.25" font-size="10.0" text-anchor="start" transform="scale(0.925,1)">19497.5</text><text x="1754.38" y="575" fill="#000" stroke="#000" stroke-width="0.25" font-size="10.0" text-anchor="start" transform="scale(0.925,1)">19276.5</text><text x="1754.38" y="608" fill="#000" stroke="#000" stroke-width="0.25" font-size="10.0" text-anchor="start" transform="scale(0.925,1)">19055.5</text><text x="1754.38" y="641" fill="#000" stroke="#000" stroke-width="0.25" font-size="10.0" text-anchor="start" transform="scale(0.925,1)">18834.5</text><g shape-rendering="crispEdges"><rect x="1619" y="304" width="41" height="11" fill="#ff0000"/></g><text x="1754.38" y="313" fill="#fff" stroke="#fff" stroke-width="0.25" font-size="10.0" text-anchor="start" transform="scale(0.925,1)">21038.0</text><g shape-rendering="crispEdges"><rect x="1619" y="334" width="41" height="11" fill="#ff0000"/></g><text x="1754.38" y="343" fill="#fff" stroke="#fff" stroke-width="0.25" font-size="10.0" text-anchor="start" transform="scale(0.925,1)">20835.9</text><g shape-rendering="crispEdges"><rect x="1619" y="365" width="41" height="11" fill="#ff8c00"/></g><text x="1754.38" y="374" fill="#fff" stroke="#fff" stroke-width="0.25" font-size="10.0" text-anchor="start" transform="scale(0.925,1)">20627.1</text><g shape-rendering="crispEdges"><rect x="1619" y="380" width="41" height="11" fill="#000000"/></g><text x="1754.38" y="389" fill="#fff" stroke="#fff" stroke-width="0.25" font-size="10.0" text-anchor="start" transform="scale(0.925,1)">20535.5</text><g shape-rendering="crispEdges"><rect x="1619" y="409" width="41" height="11" fill="#0000ff"/></g><text x="1754.38" y="418" fill="#fff" stroke="#fff" stroke-width="0.25" font-size="10.0" text-anchor="start" transform="scale(0.925,1)">20330.7</text><g shape-rendering="crispEdges"><rect x="1619" y="441" width="41" height="11" fill="#0000ff"/></g><text x="1754.38" y="450" fill="#fff" stroke="#fff" stroke-width="0.25" font-size="10.0" text-anchor="start" transform="scale(0.925,1)">20115.1</text><g shape-rendering="crispEdges" clip-path="url(#c2)"><rect x="4" y="677" width="3" height="24" fill="#00ff00"/><rect x="20" y="679" width="3" height="22" fill="#00ff00"/><rect x="36" y="683" width="3" height="18" fill="#00ff00"/><rect x="52" y="687" width="3" height="14" fill="#00ff00"/><rect x="68" y="690" width="3" height="11" fill="#00ff00"/><rect x="84" y="692" width="3" height="9" fill="#00ff00"/><rect x="100" y="689" width="3" height="12" fill="#00ff00"/><rect x="116" y="688" width="3" height="13" fill="#00ff00"/><rect x="132" y="687" width="3" height="14" fill="#00ff00"/><rect x="148" y="687" width="3" height="14" fill="#00ff00"/><rect x="164" y="684" width="3" height="17" fill="#00ff00"/><rect x="180" y="681" width="3" height="20" fill="#00ff00"/><rect x="196" y="681" width="3" height="20" fill="#00ff00"/><rect x="212" y="681" width="3" height="20" fill="#00ff00"/><rect x="228" y="680" width="3" height="21" fill="#00ff00"/><rect x="244" y="680" width="3" height="21" fill="#00ff00"/><rect x="260" y="679" width="3" height="22" fill="#00ff00"/><rect x="276" y="677" width="3" height="24" fill="#00ff00"/><rect x="292" y="672" width="3" height="29" fill="#00ff00"/><rect x="308" y="667" width="3" height="34" fill="#00ff00"/><rect x="324" y="662" width="3" height="39" fill="#00ff00"/><rect x="340" y="657" width="3" height="44" fill="#00ff00"/><rect x="356" y="654" width="3" height="47" fill="#00ff00"/><rect x="372" y="653" width="3" height="48" fill="#00ff00"/><rect x="388" y="651" width="3" height="50" fill="#00ff00"/><rect x="404" y="649" width="3" height="52" fill="#00ff00"/><rect x="420" y="648" width="3" height="53" fill="#00ff00"/><rect x="436" y="648" width="3" height="53" fill="#00ff00"/><rect x="452" y="647" width="3" height="54" fill="#00ff00"/><rect x="468" y="648" width="3" height="53" fill="#00ff00"/><rect x="484" y="650" width="3" height="51" fill="#00ff00"/><rect x="500" y="650" width="3" height="51" fill="#00ff00"/><rect x="516" y="651" width="3" height="50" fill="#00ff00"/><rect x="532" y="651" width="3" height="50" fill="#00ff00"/><rect x="548" y="651" width="3" height="50" fill="#00ff00"/><rect x="564" y="652" width="3" height="49" fill="#00ff00"/><rect x="580" y="656" width="3" height="45" fill="#00ff00"/><rect x="596" y="658" width="3" height="43" fill="#00ff00"/><rect x="612" y="661" width="3" height="40" fill="#00ff00"/><rect x="628" y="663" width="3" height="38" fill="#00ff00"/><rect x="644" y="664" width="3" height="37" fill="#00ff00"/><rect x="660" y="667" width="3" height="34" fill="#00ff00"/><rect x="676" y="667" width="3" height="34" fill="#00ff00"/><rect x="692" y="667" width="3" height="34" fill="#00ff00"/><rect x="708" y="663" width="3" height="38" fill="#00ff00"/><rect x="724" y="660" width="3" height="41" fill="#00ff00"/><rect x="740" y="658" width="3" height="43" fill="#00ff00"/><rect x="756" y="656" width="3" height="45" fill="#00ff00"/><rect x="772" y="657" width="3" height="44" fill="#00ff00"/><rect x="788" y="660" width="3" height="41" fill="#00ff00"/><rect x="804" y="666" width="3" height="35" fill="#00ff00"/><rect x="820" y="670" width="3" height="31" fill="#00ff00"/><rect x="836" y="673" width="3" height="28" fill="#00ff00"/><rect x="852" y="675" width="3" height="26" fill="#00ff00"/><rect x="868" y="676" width="3" height="25" fill="#00ff00"/><rect x="884" y="678" width="3" height="23" fill="#00ff00"/><rect x="900" y="683" width="3" height="18" fill="#00ff00"/><rect x="916" y="688" width="3" height="13" fill="#00ff00"/><rect x="932" y="695" width="3" height="6" fill="#00ff00"/><rect x="948" y="700" width="3" height="1" fill="#00ff00"/><rect x="964" y="701" width="3" height="3" fill="#00ff00"/><rect x="980" y="701" width="3" height="5" fill="#00ff00"/><rect x="996" y="701" width="3" height="7" fill="#00ff00"/><rect x="1012" y="701" width="3" height="9" fill="#00ff00"/><rect x="1028" y="701" width="3" height="10" fill="#00ff00"/><rect x="1044" y="701" width="3" height="8" fill="#00ff00"/><rect x="1060" y="701" width="3" height="10" fill="#00ff00"/><rect x="1076" y="701" width="3" height="12" fill="#00ff00"/><rect x="1092" y="701" width="3" height="14" fill="#00ff00"/><rect x="1108" y="701" width="3" height="15" fill="#00ff00"/><rect x="1124" y="701" width="3" height="15" fill="#00ff00"/><rect x="1140" y="701" width="3" height="16" fill="#00ff00"/><rect x="1156" y="701" width="3" height="18" fill="#00ff00"/><rect x="1172" y="701" width="3" height="20" fill="#00ff00"/><rect x="1188" y="701" width="3" height="18" fill="#00ff00"/><rect x="1204" y="701" width="3" height="18" fill="#00ff00"/><rect x="1220" y="701" width="3" height="19" fill="#00ff00"/><rect x="1236" y="701" width="3" height="22" fill="#00ff00"/><rect x="1252" y="701" width="3" height="21" fill="#00ff00"/><rect x="1268" y="701" width="3" height="21" fill="#00ff00"/><rect x="1284" y="701" width="3" height="22" fill="#00ff00"/><rect x="1300" y="701" width="3" height="24" fill="#00ff00"/></g><polyline points="5.5,667 21.5,669 37.5,671 53.5,673 69.5,676 85.5,679 101.5,683 117.5,684.5 133.5,687 149.5,687 165.5,687 181.5,687 197.5,687 213.5,686 229.5,684 245.5,683 261.5,682.25 277.5,681 293.5,680.25 309.5,678.5 325.5,676.25 341.5,673.25 357.5,670.25 373.5,667.25 389.5,664.5 405.5,660 421.5,657 437.5,654 453.5,652.25 469.5,651.5 485.5,650 501.5,649.5 517.5,649 533.5,649.25 549.5,650 565.5,650.5 581.5,651.5 597.5,653 613.5,653.5 629.5,655.5 645.5,656 661.5,657.5 677.5,660 693.5,662 709.5,663 725.5,663 741.5,663 757.5,663 773.5,662.75 789.5,662 805.5,662 821.5,662.5 837.5,663.5 853.5,664.4 869.5,666.25 885.5,668.1 901.5,671.25 917.5,674 933.5,678.1 949.5,681.9 965.5,686.5 981.5,690 997.5,694 1013.5,696.5 1029.5,700.5 1045.5,703.25 1061.5,705.25 1077.5,707.5 1093.5,709.5 1109.5,710.6 1125.5,711.5 1141.5,712.5 1157.5,713.75 1173.5,714.75 1189.5,715.5 1205.5,716.75 1221.5,717.5 1237.5,718.75 1253.5,719 1269.5,719.25 1285.5,720.5 1301.5,721" fill="none" stroke="#ff0000" stroke-width="2" stroke-linejoin="round" clip-path="url(#c2)" shape-rendering="crispEdges"/><text x="10.27" y="655" fill="#000" stroke="#000" stroke-width="0.25" font-size="10.0" text-anchor="start" transform="scale(0.935,1)">MACD(12,26,9) -227.96 -196.56</text><text x="1801.67" y="653" fill="#000" stroke="#000" stroke-width="0.25" font-size="10.0" text-anchor="start" transform="scale(0.9,1)">568.81</text><text x="1801.67" y="705" fill="#000" stroke="#000" stroke-width="0.25" font-size="10.0" text-anchor="start" transform="scale(0.9,1)">0.00</text><text x="1801.67" y="725" fill="#000" stroke="#000" stroke-width="0.25" font-size="10.0" text-anchor="start" transform="scale(0.9,1)">-265.9</text><g shape-rendering="crispEdges"><rect x="1618" y="701" width="2" height="1" fill="#000"/><rect x="1618" y="644" width="1" height="1" fill="#000"/><rect x="1618" y="727" width="1" height="1" fill="#000"/><rect x="1618" y="732" width="1" height="1" fill="#000"/><rect x="1618" y="817" width="1" height="1" fill="#000"/></g><g shape-rendering="crispEdges"><line x1="6" y1="749.5" x2="1617" y2="749.5" stroke="#000" stroke-width="1" stroke-dasharray="3 3"/><rect x="1618" y="749" width="2" height="1" fill="#000"/><line x1="6" y1="774.5" x2="1617" y2="774.5" stroke="#000" stroke-width="1" stroke-dasharray="3 3"/><rect x="1618" y="774" width="2" height="1" fill="#000"/><line x1="6" y1="805.5" x2="1617" y2="805.5" stroke="#000" stroke-width="1" stroke-dasharray="3 3"/><rect x="1618" y="805" width="2" height="1" fill="#000"/></g><polyline points="5.5,770 21.5,770 37.5,775.5 53.5,775.75 69.5,775.5 85.5,774.9 101.5,765.75 117.5,765.75 133.5,768.6 149.5,768.75 165.5,761.75 181.5,761.75 197.5,768 213.5,767.75 229.5,765 245.5,765.75 261.5,763.25 277.5,761.75 293.5,756.1 309.5,754.25 325.5,753.5 341.5,752.25 357.5,751.5 373.5,755.75 389.5,753 405.5,752.75 421.5,754.9 437.5,754.9 453.5,754 469.5,755.5 485.5,758 501.5,756.25 517.5,756 533.5,754.5 549.5,752.75 565.5,758 581.5,763 597.5,763 613.5,763 629.5,761.1 645.5,761.1 661.5,763 677.5,759 693.5,758.75 709.5,751.75 725.5,751.75 741.5,751.75 757.5,751.75 773.5,758.1 789.5,765 805.5,771.1 821.5,771.1 837.5,770.75 853.5,767.4 869.5,765.75 885.5,768 901.5,778 917.5,778 933.5,783.9 949.5,783.9 965.5,779.9 981.5,781.1 997.5,779.9 1013.5,782 1029.5,779.25 1045.5,774 1061.5,779.9 1077.5,780.5 1093.5,782 1109.5,781.5 1125.5,781 1141.5,782 1157.5,786 1173.5,786 1189.5,776.75 1205.5,780.5 1221.5,782.75 1237.5,785 1253.5,781 1269.5,781.25 1285.5,783.5 1301.5,785" fill="none" stroke="#1e90ff" stroke-width="2" stroke-linejoin="round" clip-path="url(#c3)" shape-rendering="crispEdges"/><text x="10.38" y="743" fill="#000" stroke="#000" stroke-width="0.25" font-size="10.0" text-anchor="start" transform="scale(0.925,1)">RSI(15) 37.6495</text><text x="1801.33" y="741" fill="#000" stroke="#000" stroke-width="0.25" font-size="10.0" text-anchor="start" transform="scale(0.9,1)">100</text><text x="1800.22" y="753" fill="#000" stroke="#000" stroke-width="0.25" font-size="10.0" text-anchor="start" transform="scale(0.9,1)">80</text><text x="1800.22" y="778" fill="#000" stroke="#000" stroke-width="0.25" font-size="10.0" text-anchor="start" transform="scale(0.9,1)">50</text><text x="1801.33" y="809" fill="#000" stroke="#000" stroke-width="0.25" font-size="10.0" text-anchor="start" transform="scale(0.9,1)">15</text><text x="1801.11" y="816" fill="#000" stroke="#000" stroke-width="0.25" font-size="10.0" text-anchor="start" transform="scale(0.9,1)">0</text><g shape-rendering="crispEdges"><rect x="5" y="819" width="1" height="3" fill="#000"/><rect x="69" y="819" width="1" height="3" fill="#000"/><rect x="133" y="819" width="1" height="3" fill="#000"/><rect x="197" y="819" width="1" height="3" fill="#000"/><rect x="261" y="819" width="1" height="3" fill="#000"/><rect x="325" y="819" width="1" height="3" fill="#000"/><rect x="389" y="819" width="1" height="3" fill="#000"/><rect x="453" y="819" width="1" height="3" fill="#000"/><rect x="517" y="819" width="1" height="3" fill="#000"/><rect x="581" y="819" width="1" height="3" fill="#000"/><rect x="645" y="819" width="1" height="3" fill="#000"/><rect x="709" y="819" width="1" height="3" fill="#000"/><rect x="773" y="819" width="1" height="3" fill="#000"/><rect x="837" y="819" width="1" height="3" fill="#000"/><rect x="901" y="819" width="1" height="3" fill="#000"/><rect x="965" y="819" width="1" height="3" fill="#000"/><rect x="1029" y="819" width="1" height="3" fill="#000"/><rect x="1093" y="819" width="1" height="3" fill="#000"/><rect x="1157" y="819" width="1" height="3" fill="#000"/><rect x="1221" y="819" width="1" height="3" fill="#000"/><rect x="1285" y="819" width="1" height="3" fill="#000"/></g><text x="5.03" y="831" fill="#000" stroke="#000" stroke-width="0.25" font-size="10.0" text-anchor="start" transform="scale(0.915,1)">19 Dec 2022</text><text x="74.97" y="831" fill="#000" stroke="#000" stroke-width="0.25" font-size="10.0" text-anchor="start" transform="scale(0.915,1)">21 Dec 01:15</text><text x="144.92" y="831" fill="#000" stroke="#000" stroke-width="0.25" font-size="10.0" text-anchor="start" transform="scale(0.915,1)">23 Dec 01:15</text><text x="214.86" y="831" fill="#000" stroke="#000" stroke-width="0.25" font-size="10.0" text-anchor="start" transform="scale(0.915,1)">29 Dec 01:15</text><text x="284.81" y="831" fill="#000" stroke="#000" stroke-width="0.25" font-size="10.0" text-anchor="start" transform="scale(0.915,1)">3 Jan 01:15</text><text x="354.75" y="831" fill="#000" stroke="#000" stroke-width="0.25" font-size="10.0" text-anchor="start" transform="scale(0.915,1)">5 Jan 01:15</text><text x="424.70" y="831" fill="#000" stroke="#000" stroke-width="0.25" font-size="10.0" text-anchor="start" transform="scale(0.915,1)">9 Jan 01:15</text><text x="494.64" y="831" fill="#000" stroke="#000" stroke-width="0.25" font-size="10.0" text-anchor="start" transform="scale(0.915,1)">11 Jan 01:15</text><text x="564.59" y="831" fill="#000" stroke="#000" stroke-width="0.25" font-size="10.0" text-anchor="start" transform="scale(0.915,1)">13 Jan 01:15</text><text x="634.54" y="831" fill="#000" stroke="#000" stroke-width="0.25" font-size="10.0" text-anchor="start" transform="scale(0.915,1)">17 Jan 01:15</text><text x="704.48" y="831" fill="#000" stroke="#000" stroke-width="0.25" font-size="10.0" text-anchor="start" transform="scale(0.915,1)">19 Jan 01:15</text><text x="774.43" y="831" fill="#000" stroke="#000" stroke-width="0.25" font-size="10.0" text-anchor="start" transform="scale(0.915,1)">26 Jan 01:15</text><text x="844.37" y="831" fill="#000" stroke="#000" stroke-width="0.25" font-size="10.0" text-anchor="start" transform="scale(0.915,1)">30 Jan 01:15</text><text x="914.32" y="831" fill="#000" stroke="#000" stroke-width="0.25" font-size="10.0" text-anchor="start" transform="scale(0.915,1)">1 Feb 01:15</text><text x="984.26" y="831" fill="#000" stroke="#000" stroke-width="0.25" font-size="10.0" text-anchor="start" transform="scale(0.915,1)">3 Feb 01:15</text><text x="1054.21" y="831" fill="#000" stroke="#000" stroke-width="0.25" font-size="10.0" text-anchor="start" transform="scale(0.915,1)">7 Feb 01:15</text><text x="1124.15" y="831" fill="#000" stroke="#000" stroke-width="0.25" font-size="10.0" text-anchor="start" transform="scale(0.915,1)">9 Feb 01:15</text><text x="1194.10" y="831" fill="#000" stroke="#000" stroke-width="0.25" font-size="10.0" text-anchor="start" transform="scale(0.915,1)">13 Feb 01:15</text><text x="1264.04" y="831" fill="#000" stroke="#000" stroke-width="0.25" font-size="10.0" text-anchor="start" transform="scale(0.915,1)">15 Feb 01:15</text><text x="1333.99" y="831" fill="#000" stroke="#000" stroke-width="0.25" font-size="10.0" text-anchor="start" transform="scale(0.915,1)">17 Feb 01:15</text><text x="1403.93" y="831" fill="#000" stroke="#000" stroke-width="0.25" font-size="10.0" text-anchor="start" transform="scale(0.915,1)">21 Feb 01:15</text></svg>
</body></html>
